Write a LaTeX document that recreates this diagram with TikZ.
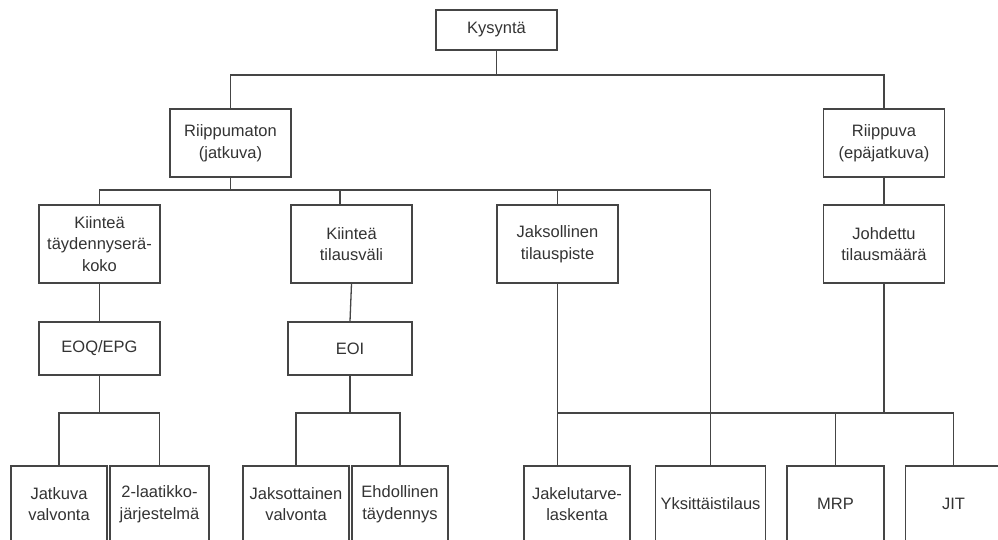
\documentclass[tikz,border=0pt]{standalone}
\usepackage{fontspec}
\setmainfont{Liberation Sans}
\usetikzlibrary{calc}
\definecolor{linegray}{HTML}{454545}
\definecolor{textgray}{HTML}{333333}
\tikzset{
  box/.style={draw=linegray, line width=1.3pt, rectangle, inner sep=0pt,
    align=center, text=textgray,
    font=\fontsize{16.5}{21.5}\selectfont},
  wire/.style={draw=linegray, line width=1.3pt},
}
\begin{document}
\begin{tikzpicture}[x=1pt,y=1pt]
\useasboundingbox (0,0) rectangle (998,-540);
\clip (0,0) rectangle (998,-540);

% top level
\node[box, minimum width=121, minimum height=40] (kys) at (496.5,-30) {Kysyntä};
\node[box, minimum width=121, minimum height=68] (rm) at (230.5,-143) {Riippumaton\\(jatkuva)};
\node[box, minimum width=121, minimum height=68] (rv) at (884,-143) {Riippuva\\(epäjatkuva)};

% third level
\node[box, minimum width=121, minimum height=78] (kt1) at (99.5,-244) {Kiinteä\\täydennyserä-\\koko};
\node[box, minimum width=121, minimum height=78] (kt2) at (351.5,-244) {Kiinteä\\tilausväli};
\node[box, minimum width=121, minimum height=78] (jt) at (557.5,-244) {Jaksollinen\\tilauspiste};
\node[box, minimum width=121, minimum height=78] (jd) at (884,-244) {Johdettu\\tilausmäärä};

% fourth level
\node[box, minimum width=121, minimum height=53] (eoq) at (99.5,-348.5) {EOQ/EPG};
\node[box, minimum width=124, minimum height=53] (eoi) at (350,-348.5) {EOI};

% bottom row
\node[box, minimum width=96, minimum height=76] (jv) at (59,-504) {Jatkuva\\valvonta};
\node[box, minimum width=99, minimum height=76] (lt) at (159.5,-504) {2-laatikko-\\järjestelmä};
\node[box, minimum width=106, minimum height=76] (jsv) at (296,-504) {Jaksottainen\\valvonta};
\node[box, minimum width=96, minimum height=76] (eh) at (400,-504) {Ehdollinen\\täydennys};
\node[box, minimum width=106, minimum height=76] (jk) at (577,-504) {Jakelutarve-\\laskenta};
\node[box, minimum width=110, minimum height=76] (yk) at (710.5,-504) {Yksittäistilaus};
\node[box, minimum width=97, minimum height=76] (mrp) at (835.5,-504) {MRP};
\node[box, minimum width=96, minimum height=76] (jit) at (953.5,-504) {JIT};

% bus levels
\coordinate (b1) at (0,-75);
\coordinate (b2) at (0,-190);
\coordinate (b3) at (0,-413);
\coordinate (kt2in) at (340,-205);
\coordinate (jkin) at (557.5,-466);

% Kysyntä -> two demand types
\draw[wire] (kys.south) -- (kys.south |- b1);
\draw[wire] (rm.north) |- (rv.north |- b1) -- (rv.north);

% Riippumaton -> methods
\draw[wire] (rm.south) -- (rm.south |- b2);
\draw[wire] (kt1.north) |- (yk.north |- b2) -- (yk.north);
\draw[wire] (kt2in |- b2) -- (kt2in);
\draw[wire] (jt.north |- b2) -- (jt.north);

% Riippuva -> Johdettu
\draw[wire] (rv.south) -- (jd.north);

% second chains
\draw[wire] (kt1.south) -- (eoq.north);
\draw[wire] (kt2.south) -- (eoi.north);

% EOQ/EPG split
\draw[wire] (eoq.south) -- (eoq.south |- b3);
\draw[wire] (jv.north) |- (lt.north |- b3) -- (lt.north);

% EOI split
\draw[wire] (eoi.south) -- (eoi.south |- b3);
\draw[wire] (jsv.north) |- (eh.north |- b3) -- (eh.north);

% right-hand bus
\draw[wire] (jt.south) -- (jkin);
\draw[wire] (jd.south) -- (jd.south |- b3);
\draw[wire] (jt.south |- b3) -| (jit.north);
\draw[wire] (mrp.north |- b3) -- (mrp.north);
\end{tikzpicture}
\end{document}
